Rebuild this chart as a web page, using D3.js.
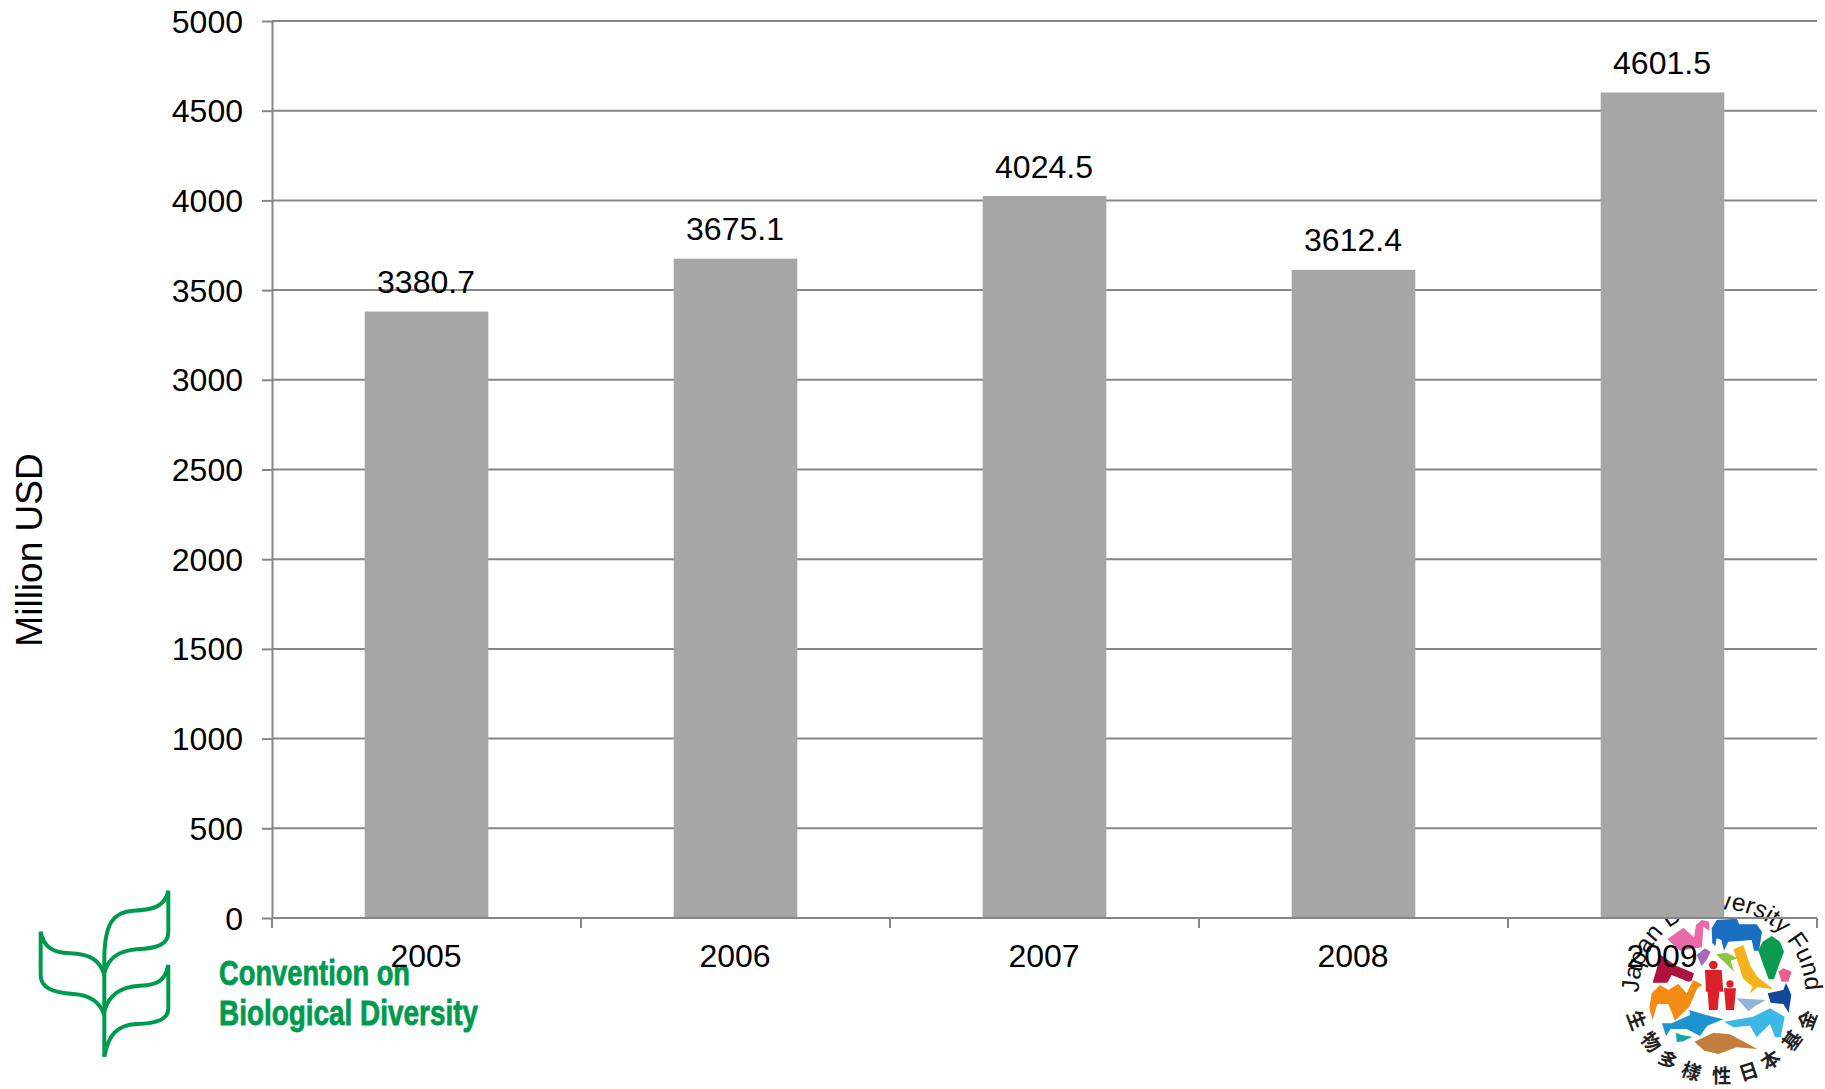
<!DOCTYPE html>
<html><head><meta charset="utf-8">
<style>html,body{margin:0;padding:0;background:#fff;overflow:hidden}text{font-family:"Liberation Sans",Arial,sans-serif}</style>
<script src="https://cdn.jsdelivr.net/npm/d3@7"></script></head>
<body><svg id="c" width="1825" height="1089"></svg>
<script>
const years = ["2005","2006","2007","2008","2009"];
const values = [3380.7,3675.1,4024.5,3612.4,4601.5];
const yTicks = [0,500,1000,1500,2000,2500,3000,3500,4000,4500,5000];
const yLabel = "Million USD";
const leafPaths = [
"M313,590 L313,300 C313,190 340,155 400,152 C460,150 495,140 505,92 L505,215 C505,255 470,265 410,268 C360,272 325,290 313,340",
"M313,345 C300,300 270,282 210,280 C160,278 130,262 122,215 L122,345 C122,385 160,398 220,402 C270,405 300,425 313,465",
"M313,455 C325,405 360,380 420,377 C470,375 495,365 505,315 L505,445 C505,480 470,490 410,492 C350,495 325,525 313,590"];
const logoShapes = [
["#e86aa6","262,238 310,203 342,232 348,195 365,180 388,185 388,212 370,200 366,262 300,272"],
["#1a6fc0","395,205 410,180 470,176 478,193 530,193 546,215 537,272 522,272 515,240 445,245 432,272 424,240 410,235 406,258 397,250"],
["#0a9a50","575,228 600,245 612,275 595,320 582,358 566,358 552,320 535,272 548,245"],
["#a868c0","350,285 375,265 392,275 380,300 365,318"],
["#8cc63f","408,283 440,278 472,295 452,302 462,335 435,308"],
["#f5b21a","460,268 490,255 512,320 532,350 580,388 532,382 508,402 518,380 488,355 478,320"],
["#e8608c","595,335 610,325 635,335 625,365 605,365"],
["#12489a","563,400 610,390 618,368 634,405 626,458 610,432 572,428"],
["#b0123f","218,368 242,285 290,318 342,340 335,362 325,365 275,345 262,368"],
["#d9202b","375,330 425,330 430,395 418,395 413,450 387,450 383,395 378,395"],
["#d9202b","432,385 468,385 462,450 438,450"],
["#f28c12","208,445 215,400 240,375 265,390 295,372 320,400 340,360 368,375 352,385 328,440 285,482 265,432 232,432 218,480"],
["#8fb5d8","470,415 558,420 527,437 505,454"],
["#1e93d2","246,490 275,490 330,465 328,450 370,463 430,478 382,497 360,528 320,507 272,507 258,528"],
["#3db8e6","432,485 520,470 570,445 614,470 602,532 585,532 570,492 530,532 510,497 460,502"],
["#17a5a5","288,518 305,525 337,530 310,544 290,546"],
["#c47e3c","343,545 400,518 450,523 532,567 470,562 415,582 373,572"]];
const logoHeads = [[400,315,13],[450,372,11]];
const cjk = [["生",172,480],["物",215,545],["多",265,598],["様",335,632],["性",425,645],["日",505,632],["本",570,598],["基",635,540],["金",680,480]];

const svg = d3.select("#c");
const L=272,R=1817,T=21,B=918, grid="#868686", bar="#a6a6a6";
svg.append("rect").attr("width",1825).attr("height",1089).attr("fill","#fff");

// logos, underneath the chart
const green="#009a4e";
const leaf=svg.append("g").attr("transform","translate(0,860) scale(0.3333)");
leaf.selectAll("path").data(leafPaths).join("path").attr("d",d=>d).attr("fill","none").attr("stroke",green).attr("stroke-width",12);
[["Convention on",985,219,191],["Biological Diversity",1025,219,259]].forEach(([t,y,x,w])=>{
 svg.append("text").text(t).attr("x",x).attr("y",y).attr("font-size",35).attr("font-weight","bold").attr("fill",green)
  .attr("stroke",green).attr("stroke-width",0.8)
  .attr("textLength",w).attr("lengthAdjust","spacingAndGlyphs");
});
const jl=svg.append("g").attr("transform","translate(1580,860) scale(0.3333)");
jl.selectAll("polygon").data(logoShapes).join("polygon").attr("points",d=>d[1]).attr("fill",d=>d[0]);
jl.selectAll("circle").data(logoHeads).join("circle").attr("cx",d=>d[0]).attr("cy",d=>d[1]).attr("r",d=>d[2]).attr("fill","#d9202b");
jl.append("path").attr("id","arc").attr("fill","none").attr("d","M176,398 A250,250 0 0 1 676,398");
jl.append("text").attr("font-size",74).attr("fill","#111").append("textPath").attr("href","#arc").attr("textLength",780).text("Japan Biodiversity Fund");
const cx=425,cy=385;
jl.selectAll("text.cjk").data(cjk).join("text").attr("class","cjk").text(d=>d[0]).attr("text-anchor","middle").attr("dominant-baseline","central")
 .style("font-family",'"Noto Sans CJK JP"').attr("font-weight","bold").attr("font-size",58).attr("fill","#222")
 .attr("transform",d=>`translate(${d[1]},${d[2]}) rotate(${Math.atan2(cx-d[1],d[2]-cy)*180/Math.PI})`);

// chart
const x=d3.scaleBand().domain(years).range([L,R]);
const y=d3.scaleLinear().domain([0,5000]).range([B,T]);
svg.append("g").selectAll("line").data(yTicks.filter(d=>d>0)).join("line")
 .attr("x1",L).attr("x2",R).attr("y1",d=>y(d)).attr("y2",d=>y(d)).attr("stroke",grid).attr("stroke-width",2);
const bw=x.bandwidth()*0.4;
svg.append("g").selectAll("rect").data(years).join("rect")
 .attr("x",d=>x(d)+x.bandwidth()/2-bw/2).attr("width",bw)
 .attr("y",(d,i)=>y(values[i])).attr("height",(d,i)=>B-y(values[i])).attr("fill",bar);

const ya=svg.append("g").attr("transform",`translate(${L},0)`).call(d3.axisLeft(y).tickValues(yTicks).tickFormat(d3.format("d")).tickSize(10).tickPadding(19).tickSizeOuter(0));
ya.selectAll("path,line").attr("stroke",grid).attr("stroke-width",2);
ya.selectAll("text").attr("font-size",32).attr("fill","#000").style("font-family",'"Liberation Sans"').attr("dy",null).attr("y",null).attr("transform","translate(0,11)");
const xa=svg.append("g").attr("transform",`translate(0,${B})`).call(d3.axisBottom(x).tickSize(0).tickPadding(0));
xa.select("path").remove();
xa.selectAll("text").attr("font-size",32).attr("fill","#000").style("font-family",'"Liberation Sans"').attr("dy",null).attr("y",49).attr("x",-0.5);
svg.append("line").attr("x1",L).attr("x2",R).attr("y1",B).attr("y2",B).attr("stroke",grid).attr("stroke-width",2);
svg.append("g").selectAll("line").data(d3.range(years.length+1)).join("line")
 .attr("x1",i=>L+i*x.step()).attr("x2",i=>L+i*x.step()).attr("y1",B).attr("y2",B+10).attr("stroke",grid).attr("stroke-width",2);

svg.append("g").selectAll("text").data(years).join("text").text((d,i)=>values[i].toFixed(1))
 .attr("x",d=>x(d)+x.bandwidth()/2-0.5).attr("y",(d,i)=>y(values[i])-18.5).attr("text-anchor","middle").attr("font-size",32).attr("fill","#000");
svg.append("text").text(yLabel).attr("text-anchor","middle").attr("font-size",37).attr("fill","#000")
 .attr("transform","translate(42,550) rotate(-90)");
</script></body></html>
